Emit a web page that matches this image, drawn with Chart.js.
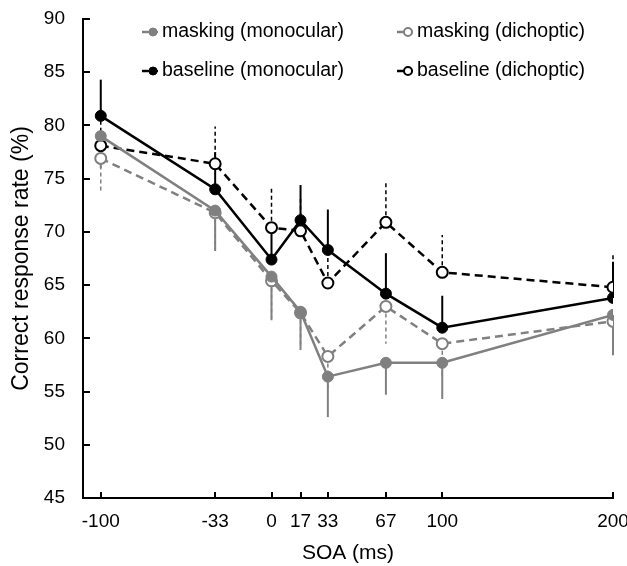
<!DOCTYPE html>
<html>
<head>
<meta charset="utf-8">
<script src="https://cdn.jsdelivr.net/npm/chart.js@4/dist/chart.umd.min.js"></script>
<style>
html,body{margin:0;padding:0;background:#fff;}
#wrap{width:627px;height:566px;position:relative;}
</style>
</head>
<body>
<div id="wrap"><canvas id="c" width="627" height="566"></canvas></div>
<script>
// ---- data ----
const soa = [-100, -33, 0, 17, 33, 67, 100, 200];
const xTickLabels = ['-100', '-33', '0', '17', '33', '67', '100', '200'];
const yTicks = [45, 50, 55, 60, 65, 70, 75, 80, 85, 90];

const maskMono    = [79.0, 72.0, 65.8, 62.5, 56.4, 57.7, 57.7, 62.2];
const maskMonoErr = [3.0, 3.8, 4.1, 3.6, 3.8, 3.0, 3.4, 3.8];
const maskDich    = [76.9, 71.8, 65.4, 62.4, 58.3, 63.0, 59.5, 61.6];
const maskDichErr = [3.1, 3.5, 3.5, 3.0, 3.0, 3.5, 3.0, 3.0];
const baseMono    = [80.9, 74.0, 67.4, 71.1, 68.3, 64.2, 61.0, 63.8];
const baseMonoErr = [3.4, 3.5, 3.0, 3.3, 3.8, 3.8, 3.0, 3.4];
const baseDich    = [78.1, 76.4, 70.4, 70.1, 65.2, 70.9, 66.2, 64.8];
const baseDichErr = [3.5, 3.5, 3.8, 3.0, 3.2, 3.9, 3.5, 3.2];

const seriesNames = ['masking (monocular)', 'masking (dichoptic)', 'baseline (monocular)', 'baseline (dichoptic)'];

const GRAY = '#808080';
const BLACK = '#000000';
const FONT = '"Liberation Sans", Arial, Helvetica, sans-serif';

function pts(ys){ return soa.map((x,i)=>({x:x, y:ys[i]})); }

function mk(label, ys, err, dir, color, open){
  return {
    label: label,
    data: pts(ys),
    errs: err,
    errDir: dir,
    open: open,
    borderColor: color,
    backgroundColor: open ? '#ffffff' : color,
    pointBackgroundColor: open ? '#ffffff' : color,
    pointBorderColor: color,
    pointBorderWidth: open ? 2 : 1,
    pointRadius: 5.5,
    borderWidth: 2.5,
    borderDash: open ? [8,5] : [],
    tension: 0,
    fill: false
  };
}

const datasets = [
  mk(seriesNames[0], maskMono, maskMonoErr, -1, GRAY, false),
  mk(seriesNames[1], maskDich, maskDichErr, -1, GRAY, true),
  mk(seriesNames[2], baseMono, baseMonoErr, 1, BLACK, false),
  mk(seriesNames[3], baseDich, baseDichErr, 1, BLACK, true)
];

const errorBars = {
  id: 'errorBars',
  beforeDatasetsDraw(chart){
    const ctx = chart.ctx, xs = chart.scales.x, ys = chart.scales.y;
    chart.data.datasets.forEach(ds=>{
      ctx.save();
      ctx.strokeStyle = ds.borderColor;
      ctx.lineWidth = ds.open ? 1.5 : 2;
      ctx.setLineDash(ds.open ? [4,3] : []);
      ds.data.forEach((p,i)=>{
        const px = xs.getPixelForValue(p.x);
        const y0 = ys.getPixelForValue(p.y);
        const y1 = ys.getPixelForValue(p.y + ds.errDir*ds.errs[i]);
        ctx.beginPath(); ctx.moveTo(px,y0); ctx.lineTo(px,y1); ctx.stroke();
      });
      ctx.restore();
    });
  }
};

const inwardTicks = {
  id: 'inwardTicks',
  afterDraw(chart){
    const ctx = chart.ctx, xs = chart.scales.x, ys = chart.scales.y, a = chart.chartArea;
    ctx.save();
    ctx.strokeStyle = '#000'; ctx.lineWidth = 2;
    soa.forEach(v=>{
      const px = Math.round(xs.getPixelForValue(v));
      ctx.beginPath(); ctx.moveTo(px, a.bottom); ctx.lineTo(px, a.bottom-6); ctx.stroke();
    });
    yTicks.forEach(v=>{
      const py = Math.round(ys.getPixelForValue(v));
      ctx.beginPath(); ctx.moveTo(a.left, py); ctx.lineTo(a.left+7, py); ctx.stroke();
    });
    ctx.restore();
  }
};

const customLegend = {
  id: 'customLegend',
  afterDraw(chart){
    const ctx = chart.ctx;
    const pos = [[142,32],[397,32],[142,71],[397,71]];
    ctx.save();
    ctx.font = '19.5px ' + FONT;
    ctx.textBaseline = 'middle';
    ctx.textAlign = 'left';
    chart.data.datasets.forEach((ds,i)=>{
      const [x,y] = pos[i];
      ctx.strokeStyle = ds.borderColor;
      ctx.lineWidth = 2.5;
      ctx.setLineDash([]);
      ctx.beginPath(); ctx.moveTo(x, y); ctx.lineTo(x+16, y); ctx.stroke();
      ctx.beginPath(); ctx.arc(x+11, y, 4, 0, Math.PI*2);
      ctx.fillStyle = ds.open ? '#fff' : ds.borderColor;
      ctx.fill();
      ctx.lineWidth = ds.open ? 2 : 1;
      ctx.stroke();
      ctx.fillStyle = '#000';
      ctx.fillText(ds.label, x+20, y);
    });
    ctx.restore();
  }
};

new Chart(document.getElementById('c'), {
  type: 'line',
  data: { datasets: datasets },
  options: {
    responsive: false,
    animation: false,
    devicePixelRatio: 1,
    layout: { padding: { left: 0, right: 14, top: 19, bottom: 0 } },
    plugins: { legend: { display: false }, tooltip: { enabled: false } },
    scales: {
      x: {
        type: 'linear',
        min: -110.4, max: 200,
        afterBuildTicks(scale){ scale.ticks = soa.map(v=>({value:v})); },
        afterFit(scale){ scale.height = 68; scale.paddingLeft = 0; scale.paddingRight = 0; },
        ticks: {
          autoSkip: false, maxRotation: 0, padding: 12, color: '#000',
          font: { size: 19, family: FONT },
          callback(v){ const i = soa.indexOf(v); return i >= 0 ? xTickLabels[i] : ''; }
        },
        grid: { display: false, drawTicks: false },
        border: { display: true, color: '#000', width: 2 },
        title: { display: true, text: 'SOA (ms)', color: '#000', font: { size: 21, family: FONT }, padding: { top: 3, bottom: 0 } }
      },
      y: {
        min: 45, max: 90,
        afterBuildTicks(scale){ scale.ticks = yTicks.map(v=>({value:v})); },
        afterFit(scale){ scale.width = 83; scale.paddingTop = 0; scale.paddingBottom = 0; },
        ticks: { padding: 18, color: '#000', font: { size: 19, family: FONT } },
        grid: { display: false, drawTicks: false },
        border: { display: true, color: '#000', width: 2 },
        title: { display: true, text: 'Correct response rate (%)', color: '#000', font: { size: 23, family: FONT }, padding: { top: 8, bottom: 0 } }
      }
    }
  },
  plugins: [errorBars, inwardTicks, customLegend]
});
</script>
</body>
</html>
